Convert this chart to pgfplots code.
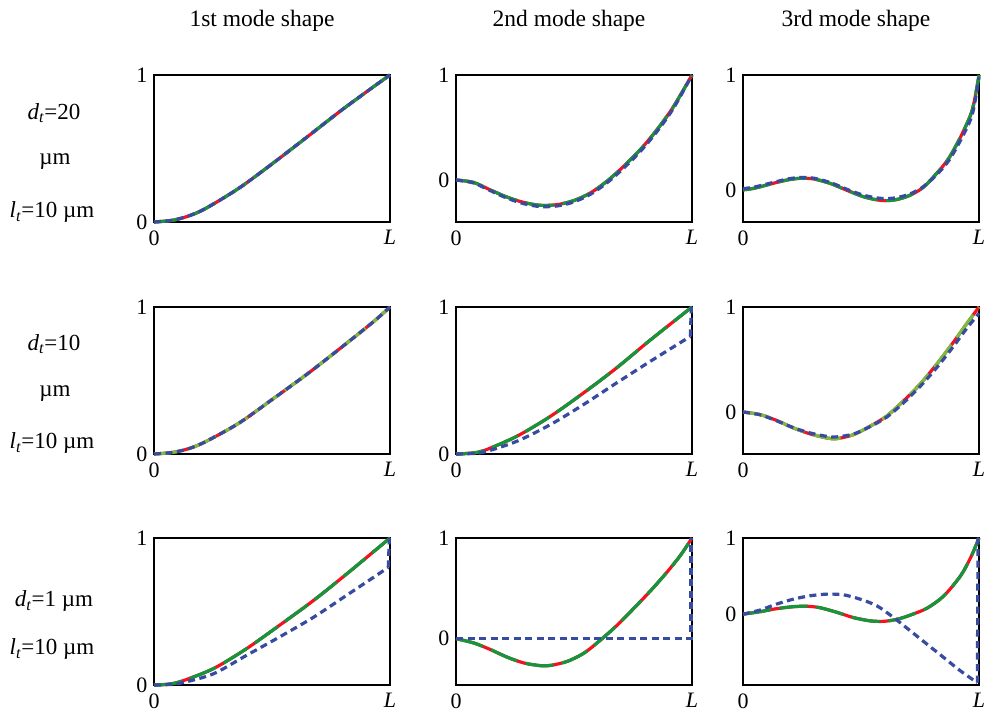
\documentclass[border=0pt]{standalone}
\usepackage{pgfplots}
\pgfplotsset{compat=1.18}
\usepackage{fontspec}
\setmainfont{Liberation Serif}
\definecolor{cred}{RGB}{240,20,30}
\definecolor{cgreen}{RGB}{20,150,60}
\definecolor{cgreenB}{RGB}{120,190,60}
\definecolor{cblue}{RGB}{55,75,160}
\pgfplotsset{
  mode/.style={width=236pt,height=147pt,scale only axis,anchor=south west,
    xmin=0,xmax=1,ymax=1,xtick={0,1},xticklabels={0,\textit{L}},
    ytick={0,1},yticklabels={0,1},major tick length=0pt,
    tick label style={font=\fontsize{22}{26}\selectfont},
    xticklabel style={yshift=-5pt},
    yticklabel style={xshift=-3pt},
    /pgf/number format/assume math mode=true,
    axis line style={line width=1.1pt},clip=false},
  rl/.style={color=cred,line width=3.2pt,smooth,no marks},
  gl/.style={color=cgreen,line width=3.2pt,smooth,no marks,dash pattern=on 28pt off 9pt},
  gl2/.style={color=cgreenB,line width=3.2pt,smooth,no marks,dash pattern=on 28pt off 9pt},
  bl/.style={color=cblue,line width=3.2pt,smooth,no marks,dash pattern=on 7pt off 4.5pt},
  bls/.style={color=cblue,line width=3.2pt,no marks,dash pattern=on 7pt off 4.5pt},
}
\begin{document}
\begin{tikzpicture}
\useasboundingbox (0pt,0pt) rectangle (998pt,716pt);
% column titles
\node[font=\fontsize{23.5}{28}\selectfont] at (262pt,695pt) {1st mode shape};
\node[font=\fontsize{23.5}{28}\selectfont] at (569pt,695pt) {2nd mode shape};
\node[font=\fontsize{23.5}{28}\selectfont] at (856pt,695pt) {3rd mode shape};
% row labels
\begin{scope}[every node/.style={font=\fontsize{23}{27}\selectfont}]
\node at (54pt,603pt) {\textit{d}\textsubscript{\textit{t}}=20};
\node at (55pt,554pt) {µm};
\node at (52pt,504pt) {\textit{l}\textsubscript{\textit{t}}=10 µm};
\node at (54pt,372pt) {\textit{d}\textsubscript{\textit{t}}=10};
\node at (55pt,322pt) {µm};
\node at (52pt,273pt) {\textit{l}\textsubscript{\textit{t}}=10 µm};
\node at (54pt,115pt) {\textit{d}\textsubscript{\textit{t}}=1 µm};
\node at (52pt,67pt) {\textit{l}\textsubscript{\textit{t}}=10 µm};
\end{scope}
% ---------- row 1 ----------
\begin{axis}[mode,at={(154pt,494pt)},ymin=0]
\addplot[rl] coordinates {(0,0) (0.08,0.012) (0.15,0.043) (0.22,0.093) (0.36,0.23) (0.5,0.395) (0.65,0.58) (0.79,0.755) (0.93,0.92) (1,1)};
\addplot[gl] coordinates {(0,0) (0.08,0.012) (0.15,0.043) (0.22,0.093) (0.36,0.23) (0.5,0.395) (0.65,0.58) (0.79,0.755) (0.93,0.92) (1,1)};
\addplot[bl] coordinates {(0,0) (0.08,0.012) (0.15,0.043) (0.22,0.093) (0.36,0.23) (0.5,0.395) (0.65,0.58) (0.79,0.755) (0.93,0.92) (1,1)};
\end{axis}
\begin{axis}[mode,at={(456pt,494pt)},ymin=-0.4]
\addplot[rl] coordinates {(0,0) (0.074,-0.023) (0.144,-0.093) (0.215,-0.162) (0.286,-0.213) (0.356,-0.241) (0.427,-0.235) (0.498,-0.197) (0.569,-0.124) (0.639,-0.013) (0.71,0.129) (0.78,0.287) (0.851,0.477) (0.922,0.70) (1,1)};
\addplot[gl] coordinates {(0,0) (0.074,-0.023) (0.144,-0.093) (0.215,-0.162) (0.286,-0.213) (0.356,-0.241) (0.427,-0.235) (0.498,-0.197) (0.569,-0.124) (0.639,-0.013) (0.71,0.129) (0.78,0.287) (0.851,0.477) (0.922,0.70) (1,1)};
\addplot[bl] coordinates {(0,0) (0.074,-0.028) (0.144,-0.1) (0.215,-0.172) (0.286,-0.225) (0.356,-0.253) (0.427,-0.248) (0.498,-0.21) (0.569,-0.137) (0.639,-0.028) (0.71,0.112) (0.78,0.27) (0.851,0.46) (0.922,0.685) (1,1)};
\end{axis}
\begin{axis}[mode,at={(743pt,494pt)},ymin=-0.28]
\addplot[rl] coordinates {(0,0) (0.048,0.014) (0.119,0.052) (0.19,0.087) (0.247,0.101) (0.304,0.093) (0.375,0.052) (0.446,-0.009) (0.517,-0.064) (0.588,-0.093) (0.645,-0.087) (0.702,-0.052) (0.759,0.014) (0.815,0.13) (0.872,0.275) (0.929,0.49) (0.972,0.70) (1,1)};
\addplot[gl] coordinates {(0,0) (0.048,0.014) (0.119,0.052) (0.19,0.087) (0.247,0.101) (0.304,0.093) (0.375,0.052) (0.446,-0.009) (0.517,-0.064) (0.588,-0.093) (0.645,-0.087) (0.702,-0.052) (0.759,0.014) (0.815,0.13) (0.872,0.275) (0.929,0.49) (0.972,0.70) (1,1)};
\addplot[bl] coordinates {(0,0.01) (0.048,0.024) (0.119,0.06) (0.19,0.095) (0.247,0.108) (0.304,0.1) (0.375,0.06) (0.446,0.0) (0.517,-0.05) (0.588,-0.075) (0.645,-0.07) (0.702,-0.04) (0.759,0.02) (0.815,0.12) (0.872,0.255) (0.929,0.46) (0.972,0.66) (1,0.98)};
\end{axis}
% ---------- row 2 ----------
\begin{axis}[mode,at={(154pt,262pt)},ymin=0]
\addplot[rl] coordinates {(0,0) (0.08,0.011) (0.15,0.038) (0.22,0.085) (0.36,0.21) (0.5,0.37) (0.65,0.545) (0.79,0.72) (0.93,0.9) (1,1)};
\addplot[gl2] coordinates {(0,0) (0.08,0.011) (0.15,0.038) (0.22,0.085) (0.36,0.21) (0.5,0.37) (0.65,0.545) (0.79,0.72) (0.93,0.9) (1,1)};
\addplot[bl] coordinates {(0,0) (0.08,0.011) (0.15,0.038) (0.22,0.085) (0.36,0.21) (0.5,0.37) (0.65,0.545) (0.79,0.72) (0.93,0.9) (1,1)};
\end{axis}
\begin{axis}[mode,at={(456pt,262pt)},ymin=0]
\addplot[rl] coordinates {(0,0) (0.05,0.004) (0.116,0.022) (0.257,0.12) (0.4,0.256) (0.54,0.415) (0.68,0.585) (0.823,0.775) (1,1)};
\addplot[gl] coordinates {(0,0) (0.05,0.004) (0.116,0.022) (0.257,0.12) (0.4,0.256) (0.54,0.415) (0.68,0.585) (0.823,0.775) (1,1)};
\addplot[bl] coordinates {(0,0) (0.05,0.002) (0.116,0.012) (0.257,0.086) (0.4,0.2) (0.54,0.336) (0.68,0.483) (0.823,0.63) (0.993,0.80)};
\addplot[bls] coordinates {(0.993,0.80) (0.997,1)};
\end{axis}
\begin{axis}[mode,at={(743pt,262pt)},ymin=-0.4]
\addplot[rl] coordinates {(0,0) (0.073,-0.025) (0.144,-0.082) (0.214,-0.152) (0.285,-0.209) (0.355,-0.247) (0.397,-0.254) (0.468,-0.216) (0.538,-0.136) (0.608,-0.04) (0.679,0.103) (0.749,0.262) (0.82,0.453) (0.89,0.66) (0.946,0.835) (1,1)};
\addplot[gl2] coordinates {(0,0) (0.073,-0.025) (0.144,-0.082) (0.214,-0.152) (0.285,-0.209) (0.355,-0.247) (0.397,-0.254) (0.468,-0.216) (0.538,-0.136) (0.608,-0.04) (0.679,0.103) (0.749,0.262) (0.82,0.453) (0.89,0.66) (0.946,0.835) (1,1)};
\addplot[bl] coordinates {(0,0) (0.073,-0.027) (0.144,-0.085) (0.214,-0.15) (0.285,-0.2) (0.355,-0.232) (0.397,-0.237) (0.468,-0.21) (0.538,-0.14) (0.608,-0.05) (0.679,0.085) (0.749,0.24) (0.82,0.42) (0.89,0.62) (0.946,0.79) (1,0.94)};
\end{axis}
% ---------- row 3 ----------
\begin{axis}[mode,at={(154pt,31pt)},ymin=0]
\addplot[rl] coordinates {(0,0) (0.05,0.004) (0.11,0.022) (0.25,0.11) (0.39,0.245) (0.53,0.404) (0.675,0.574) (0.816,0.755) (1,1)};
\addplot[gl] coordinates {(0,0) (0.05,0.004) (0.11,0.022) (0.25,0.11) (0.39,0.245) (0.53,0.404) (0.675,0.574) (0.816,0.755) (1,1)};
\addplot[bl] coordinates {(0,0) (0.05,0.002) (0.11,0.012) (0.25,0.075) (0.39,0.2) (0.53,0.325) (0.675,0.46) (0.816,0.61) (0.993,0.80)};
\addplot[bls] coordinates {(0.993,0.80) (0.997,1)};
\end{axis}
\begin{axis}[mode,at={(456pt,31pt)},ymin=-0.46]
\addplot[rl] coordinates {(0,0) (0.076,-0.043) (0.147,-0.109) (0.218,-0.185) (0.289,-0.242) (0.359,-0.268) (0.402,-0.265) (0.472,-0.225) (0.543,-0.142) (0.614,-0.01) (0.685,0.139) (0.755,0.305) (0.826,0.48) (0.897,0.669) (0.953,0.834) (1,1)};
\addplot[gl] coordinates {(0,0) (0.076,-0.043) (0.147,-0.109) (0.218,-0.185) (0.289,-0.242) (0.359,-0.268) (0.402,-0.265) (0.472,-0.225) (0.543,-0.142) (0.614,-0.01) (0.685,0.139) (0.755,0.305) (0.826,0.48) (0.897,0.669) (0.953,0.834) (1,1)};
\addplot[bls] coordinates {(0,0) (0.996,0) (0.996,1)};
\end{axis}
\begin{axis}[mode,at={(743pt,31pt)},ymin=-0.93]
\addplot[rl] coordinates {(0,0) (0.071,0.032) (0.142,0.072) (0.213,0.098) (0.27,0.104) (0.326,0.085) (0.397,0.025) (0.468,-0.045) (0.539,-0.088) (0.596,-0.094) (0.652,-0.068) (0.709,-0.012) (0.78,0.079) (0.851,0.24) (0.922,0.504) (0.965,0.746) (1,1)};
\addplot[gl] coordinates {(0,0) (0.071,0.032) (0.142,0.072) (0.213,0.098) (0.27,0.104) (0.326,0.085) (0.397,0.025) (0.468,-0.045) (0.539,-0.088) (0.596,-0.094) (0.652,-0.068) (0.709,-0.012) (0.78,0.079) (0.851,0.24) (0.922,0.504) (0.965,0.746) (1,1)};
\addplot[bl] coordinates {(0,0) (0.071,0.053) (0.142,0.132) (0.213,0.197) (0.284,0.241) (0.355,0.263) (0.426,0.254) (0.496,0.197) (0.567,0.11) (0.638,-0.044) (0.709,-0.219) (0.78,-0.395) (0.851,-0.57) (0.922,-0.746) (0.993,-0.9)};
\addplot[bls] coordinates {(0.993,-0.9) (0.996,1)};
\end{axis}
\end{tikzpicture}
\end{document}
